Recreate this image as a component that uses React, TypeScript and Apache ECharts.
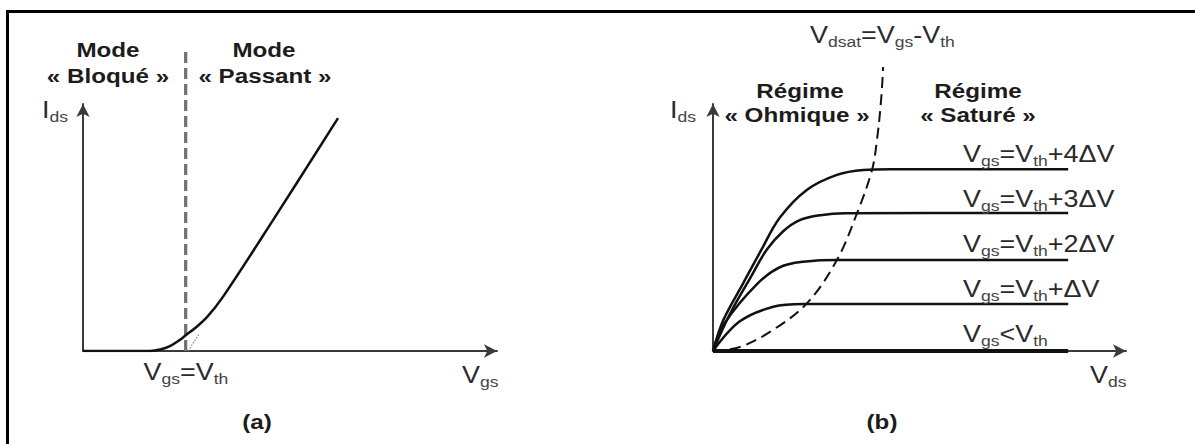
import React, { useEffect, useRef } from 'react';
import * as echarts from 'echarts';

const FONT = '"Liberation Sans", Arial, Helvetica, sans-serif';

// ---------- Panel (a): transfer characteristic Ids(Vgs) ----------
const transferVgs = [0, 1.62, 1.86, 2.1, 2.34, 2.49, 2.71, 3.0, 3.38, 4.59, 6.16];
const transferIds = [0, 0, 0.06, 0.2, 0.45, 0.65, 0.93, 1.38, 2.19, 5.3, 9.43];
const thresholdVgs = [2.48, 2.48];
const thresholdIds = [0, 12.15];
const tangentVgs = [2.54, 2.8];
const tangentIds = [0, 0.68];

// ---------- Panel (b): output characteristics Ids(Vds) ----------
const curve4Vds = [0, 0.25, 0.73, 1.14, 1.62, 2.27, 3.0, 3.64, 4.3, 8.6];
const curve4Ids = [0, 1.25, 2.74, 4.0, 5.4, 6.52, 7.13, 7.33, 7.36, 7.36];
const curve3Vds = [0, 0.41, 0.9, 1.3, 1.7, 2.1, 2.6, 3.2, 8.6];
const curve3Ids = [0, 1.5, 2.95, 4.1, 4.85, 5.3, 5.5, 5.58, 5.59];
const curve2Vds = [0, 0.25, 1.06, 1.7, 2.51, 3.0, 8.6];
const curve2Ids = [0, 1.05, 2.7, 3.45, 3.66, 3.68, 3.68];
const curve1Vds = [0, 0.65, 1.46, 2.19, 2.6, 8.6];
const curve1Ids = [0, 1.2, 1.79, 1.9, 1.9, 1.9];
const curve0Vds = [0, 8.6];
const curve0Ids = [0, 0];
const vdsatVds = [0, 0.65, 1.45, 2.28, 3.0, 3.49, 3.85, 3.97, 4.07, 4.12];
const vdsatIds = [0, 0.16, 0.85, 1.94, 3.68, 5.59, 7.33, 8.54, 10.16, 11.5];

// ---------- Texts ----------
const curveLabels = [
  'V_{gs}=V_{th}+4ΔV',
  'V_{gs}=V_{th}+3ΔV',
  'V_{gs}=V_{th}+2ΔV',
  'V_{gs}=V_{th}+ΔV',
  'V_{gs}<V_{th}',
];
const curveLabelBaselines = [162, 207, 252, 297, 342];

const zip = (xs: number[], ys: number[]) => xs.map((x, i) => [x, ys[i]]);

function toRich(label: string): string {
  const out: string[] = [];
  const re = /_\{([^}]*)\}/g;
  let last = 0;
  let m: RegExpExecArray | null;
  while ((m = re.exec(label))) {
    if (m.index > last) out.push(`{m|${label.slice(last, m.index)}}`);
    out.push(`{s|${m[1]}}`);
    last = re.lastIndex;
  }
  if (last < label.length) out.push(`{m|${label.slice(last)}}`);
  return out.join('');
}

const TXT = '#2a2a2a';
const RICH = {
  m: { fontSize: 23, fontFamily: FONT, fill: TXT, lineHeight: 28, verticalAlign: 'middle' },
  s: { fontSize: 15, fontFamily: FONT, fill: '#444', lineHeight: 14, verticalAlign: 'bottom' },
};

const regText = (text: string, x: number, baseline: number, align = 'left') => ({
  type: 'text',
  x,
  y: baseline - 22,
  scaleX: 1.17,
  z: 20,
  silent: true,
  style: {
    text: toRich(text),
    rich: RICH,
    fill: TXT,
    align,
    textAlign: align,
    verticalAlign: 'top',
    textVerticalAlign: 'top',
  },
});

const boldText = (text: string, cx: number, cy: number) => ({
  type: 'text',
  x: cx,
  y: cy,
  scaleX: 1.21,
  z: 20,
  silent: true,
  style: {
    text,
    font: `bold 20px ${FONT}`,
    fill: '#1c1c1c',
    align: 'center',
    textAlign: 'center',
    verticalAlign: 'middle',
    textVerticalAlign: 'middle',
  },
});

const axisLine = {
  show: true,
  symbol: ['none', 'arrow'],
  symbolSize: [10, 13],
  lineStyle: { color: '#3a3a3a', width: 2 },
};

const valueAxis = (gridIndex: number) => ({
  type: 'value',
  gridIndex,
  min: 0,
  max: 10,
  axisLine,
  axisTick: { show: false },
  axisLabel: { show: false },
  splitLine: { show: false },
});

const line = (data: number[][], gi: number, lineStyle: any, extra: any = {}) => ({
  type: 'line',
  xAxisIndex: gi,
  yAxisIndex: gi,
  data,
  symbol: 'none',
  silent: true,
  lineStyle,
  ...extra,
});

const CURVE = { color: '#111', width: 2.5 };
const SMOOTH = { smooth: 0.35 };

export default function App() {
  const ref = useRef<HTMLDivElement>(null);

  useEffect(() => {
    const chart = echarts.init(ref.current!, null, { renderer: 'svg', width: 1195, height: 444 });
    const option: any = {
      animation: false,
      backgroundColor: '#ffffff',
      grid: [
        { left: 83, top: 104, width: 414, height: 247, outerBoundsMode: 'none' },
        { left: 713, top: 104, width: 413, height: 247, outerBoundsMode: 'none' },
      ],
      xAxis: [valueAxis(0), valueAxis(1)],
      yAxis: [valueAxis(0), valueAxis(1)],
      series: [
        // panel (a)
        line(zip(thresholdVgs, thresholdIds), 0, { color: '#707070', width: 3.2, type: [11, 5] }, { clip: false, z: 3 }),
        line(zip(tangentVgs, tangentIds), 0, { color: '#8a8a8a', width: 1.2, type: [1.5, 1.5] }, { z: 3 }),
        line(zip(transferVgs, transferIds), 0, CURVE, { ...SMOOTH, z: 4 }),
        // panel (b)
        line(zip(curve4Vds, curve4Ids), 1, CURVE, SMOOTH),
        line(zip(curve3Vds, curve3Ids), 1, CURVE, SMOOTH),
        line(zip(curve2Vds, curve2Ids), 1, CURVE, SMOOTH),
        line(zip(curve1Vds, curve1Ids), 1, CURVE, SMOOTH),
        line(zip(curve0Vds, curve0Ids), 1, { color: '#111', width: 4 }),
        line(zip(vdsatVds, vdsatIds), 1, { color: '#111', width: 2, type: [11, 6] }, { smooth: 0.35, clip: false, z: 5 }),
      ],
      graphic: [
        {
          type: 'rect',
          silent: true,
          shape: { x: 7.5, y: 11.5, width: 1200, height: 450 },
          style: { fill: 'none', stroke: '#000', lineWidth: 3 },
        },
        // panel (a)
        boldText('Mode', 108, 50),
        boldText('« Bloqué »', 108, 76),
        boldText('Mode', 264, 50),
        boldText('« Passant »', 265, 76),
        regText('I_{ds}', 42, 118),
        regText('V_{gs}=V_{th}', 186, 380, 'center'),
        regText('V_{gs}', 462, 383),
        boldText('(a)', 257, 422),
        // panel (b)
        regText('V_{dsat}=V_{gs}-V_{th}', 810, 43),
        boldText('Régime', 800, 91),
        boldText('« Ohmique »', 797, 115),
        boldText('Régime', 978, 91),
        boldText('« Saturé »', 978, 115),
        regText('I_{ds}', 670, 118),
        ...curveLabels.map((t, i) => regText(t, 963, curveLabelBaselines[i])),
        regText('V_{ds}', 1090, 383),
        boldText('(b)', 882, 422),
      ],
    };
    chart.setOption(option);
    return () => chart.dispose();
  }, []);

  return (
    <div
      ref={ref}
      style={{ position: 'absolute', left: 0, top: 0, width: 1195, height: 444, background: '#fff' }}
    />
  );
}
